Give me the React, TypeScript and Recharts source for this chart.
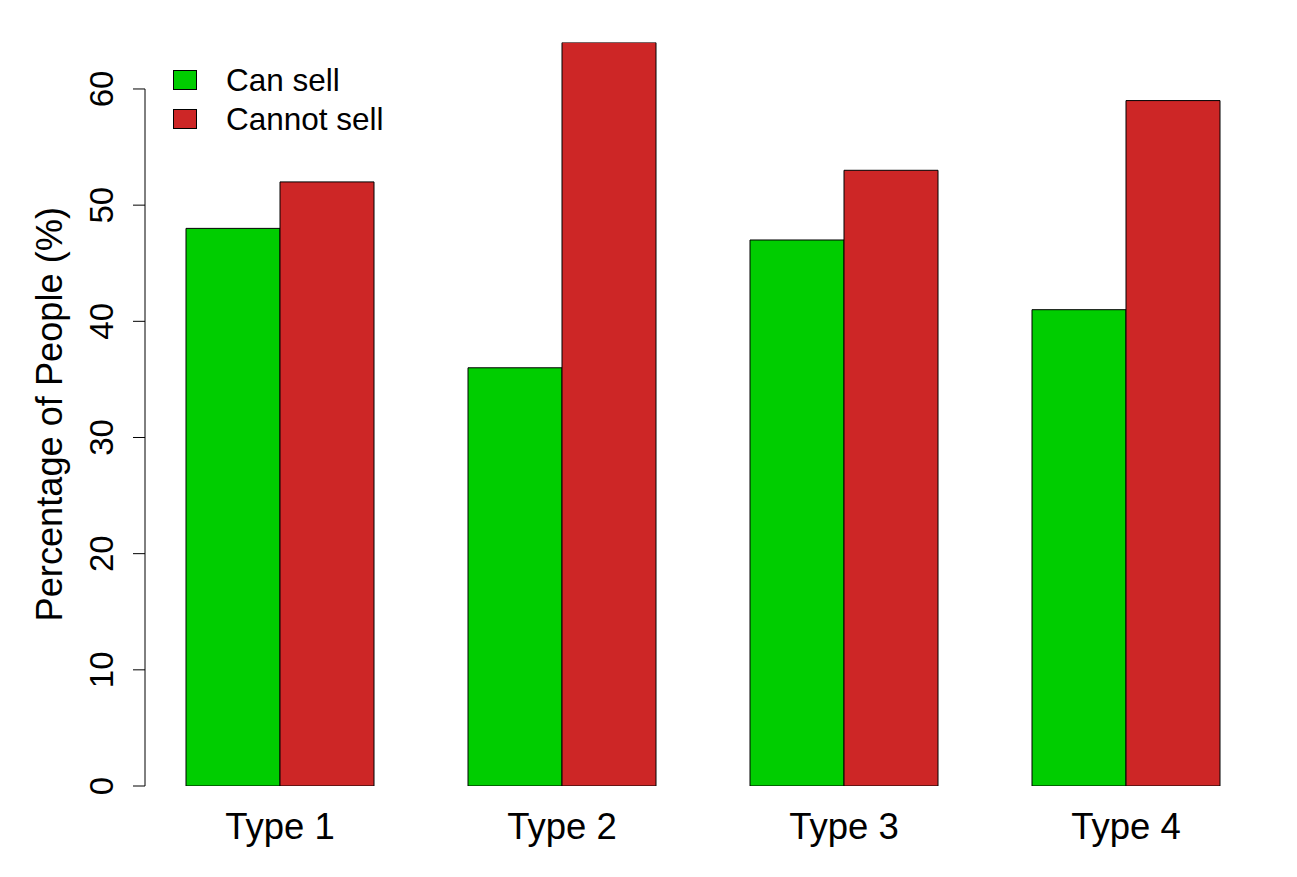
import { BarChart, Bar, XAxis, YAxis, Legend, ReferenceLine } from 'recharts';

const categories = ['Type 1', 'Type 2', 'Type 3', 'Type 4'];
const canSell = [48, 36, 47, 41];
const cannotSell = [52, 64, 53, 59];
const yTicks = [0, 10, 20, 30, 40, 50, 60];
const seriesNames = ['Can sell', 'Cannot sell'];
const seriesColors = ['#00CD00', '#CD2626'];
const yLabel = 'Percentage of People (%)';

const data = categories.map((name, i) => ({ name, canSell: canSell[i], cannotSell: cannotSell[i] }));

const FONT = '"Liberation Sans", Arial, Helvetica, sans-serif';

// y tick labels are rotated like R's default las=0
const YTick = (props: any) => {
    const { x, y, payload } = props;
    return (
        <text transform={`translate(${x - 20},${y}) rotate(-90)`} textAnchor="middle" fontSize={33} fill="#000" fontFamily={FONT}>
            {payload.value}
        </text>
    );
};

const XTick = (props: any) => {
    const { x, y, payload } = props;
    return (
        <text x={x} y={y + 53} textAnchor="middle" fontSize={36.5} fill="#000" fontFamily={FONT}>
            {payload.value}
        </text>
    );
};

const YLabel = (props: any) => {
    const vb = props.viewBox;
    const cx = vb.x + 54;
    const cy = vb.y + vb.height / 2;
    return (
        <text transform={`translate(${cx},${cy}) rotate(-90)`} textAnchor="middle" fontSize={36.2} fill="#000" fontFamily={FONT}>
            {yLabel}
        </text>
    );
};

const LegendBox = (props: any) => {
    const items = props.payload || [];
    return (
        <div style={{ fontFamily: FONT }}>
            {items.map((item: any) => (
                <div key={item.value} style={{ display: 'flex', alignItems: 'center', height: 39 }}>
                    <div style={{ width: 22, height: 18, background: item.color, border: '1px solid #000', marginRight: 29 }} />
                    <span style={{ fontSize: 31.5, lineHeight: '39px', color: '#000' }}>{item.value}</span>
                </div>
            ))}
        </div>
    );
};

export default function App() {
    return (
        <div style={{ fontFamily: FONT }}>
            <BarChart
                width={1289}
                height={860}
                data={data}
                barGap={0}
                margin={{ top: 34.5, right: 36, bottom: 0, left: 0 }}
            >
                <XAxis
                    dataKey="name"
                    padding={{ left: -6, right: -6 }}
                    axisLine={false}
                    tickLine={false}
                    tickSize={0}
                    tickMargin={0}
                    height={82}
                    tick={<XTick />}
                    interval={0}
                />
                <XAxis xAxisId="edge" type="number" domain={[0, 1]} hide allowDataOverflow />
                <YAxis
                    domain={[0, 64]}
                    ticks={yTicks}
                    width={137}
                    axisLine={false}
                    tickLine={{ stroke: '#000', strokeWidth: 1 }}
                    tickSize={12}
                    tickMargin={0}
                    tick={<YTick />}
                    interval={0}
                    label={(p: any) => <YLabel {...p} />}
                    allowDataOverflow
                />
                <ReferenceLine
                    xAxisId="edge"
                    segment={[{ x: 0, y: 0 }, { x: 0, y: 60 }]}
                    stroke="#000"
                    strokeWidth={1}
                />
                <Bar dataKey="canSell" name={seriesNames[0]} fill={seriesColors[0]} stroke="#000" strokeWidth={1} barSize={94} isAnimationActive={false} />
                <Bar dataKey="cannotSell" name={seriesNames[1]} fill={seriesColors[1]} stroke="#000" strokeWidth={1} barSize={94} isAnimationActive={false} />
                <Legend
                    layout="horizontal"
                    verticalAlign="middle"
                    align="center"
                    wrapperStyle={{ left: 165, top: 52.5, width: 'auto' }}
                    content={<LegendBox />}
                />
            </BarChart>
        </div>
    );
}
